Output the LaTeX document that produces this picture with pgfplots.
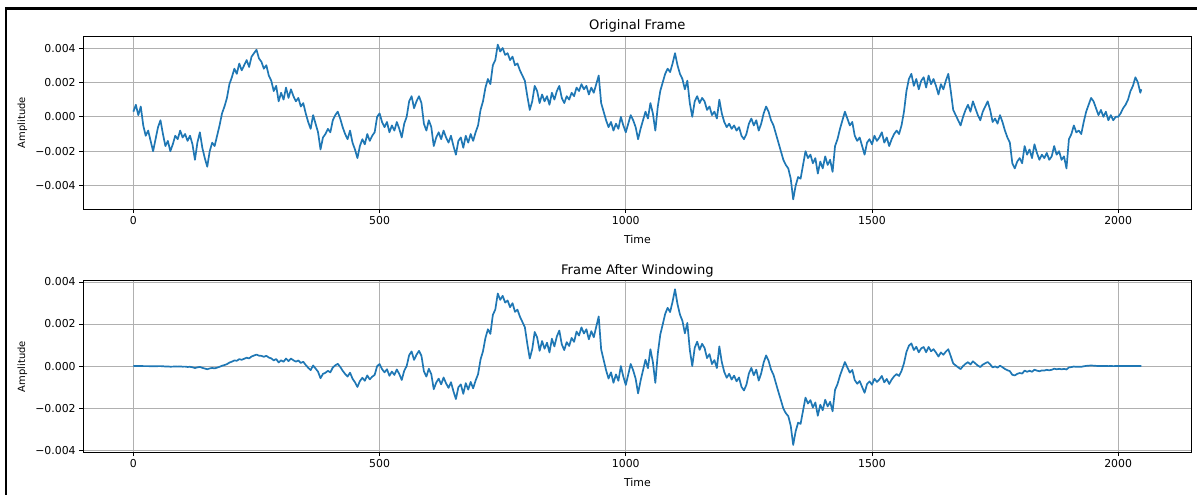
\documentclass[border=0pt]{standalone}
\usepackage{fontspec}
\setmainfont{DejaVu Sans}
\usepackage{pgfplots}
\usepackage{pgfplotstable}
\pgfplotsset{compat=1.18}
\definecolor{mplblue}{HTML}{1F77B4}
\definecolor{gridgray}{HTML}{B0B0B0}
\newcommand\tickfont{\fontsize{10.9bp}{13bp}\selectfont}
\newcommand\titlefont{\fontsize{13.1bp}{15bp}\selectfont}
\pgfplotstableread{
t o w
0 3e-4 0
5 7e-4 0.004e-4
10 1e-4 0.001e-4
15 6e-4 0.011e-4
20 -5e-4 -0.012e-4
25 -11e-4 -0.033e-4
30 -8e-4 -0.028e-4
35 -14e-4 -0.057e-4
40 -20e-4 -0.094e-4
45 -13e-4 -0.069e-4
50 -6e-4 -0.035e-4
55 -2e-4 -0.015e-4
60 -10e-4 -0.094e-4
65 -17e-4 -0.19e-4
70 -14e-4 -0.18e-4
75 -20e-4 -0.29e-4
80 -16e-4 -0.26e-4
85 -11e-4 -0.20e-4
90 -13e-4 -0.26e-4
95 -8e-4 -0.17e-4
100 -12e-4 -0.28e-4
105 -10e-4 -0.26e-4
110 -14e-4 -0.41e-4
115 -11e-4 -0.35e-4
120 -16e-4 -0.56e-4
125 -25e-4 -0.94e-4
130 -15e-4 -0.61e-4
135 -9e-4 -0.39e-4
140 -18e-4 -0.84e-4
145 -24e-4 -1.18e-4
150 -29e-4 -1.51e-4
155 -20e-4 -1.12e-4
160 -15e-4 -0.90e-4
165 -17e-4 -1.09e-4
170 -11e-4 -0.75e-4
175 -5e-4 -0.36e-4
180 2e-4 0.15e-4
185 6e-4 0.48e-4
190 11e-4 0.92e-4
195 19e-4 1.66e-4
200 23e-4 2.10e-4
205 28e-4 2.69e-4
210 25e-4 2.53e-4
215 31e-4 3.29e-4
220 27e-4 2.99e-4
225 30e-4 3.47e-4
230 33e-4 3.98e-4
235 29e-4 3.64e-4
240 35e-4 4.56e-4
245 37e-4 5.01e-4
250 39e-4 5.47e-4
255 34e-4 4.96e-4
260 32e-4 4.85e-4
265 28e-4 4.41e-4
270 30e-4 4.89e-4
275 24e-4 4.05e-4
280 21e-4 3.66e-4
285 15e-4 2.70e-4
290 18e-4 3.35e-4
295 9e-4 1.73e-4
300 14e-4 2.76e-4
305 10e-4 2.04e-4
310 17e-4 3.58e-4
315 11e-4 2.38e-4
320 16e-4 3.57e-4
325 12e-4 2.76e-4
330 9e-4 2.12e-4
335 11e-4 2.67e-4
340 6e-4 1.49e-4
345 8e-4 2.04e-4
350 2e-4 0.52e-4
355 -3e-4 -0.81e-4
360 -7e-4 -1.93e-4
365 1e-4 0.28e-4
370 -4e-4 -1.16e-4
375 -9e-4 -2.67e-4
380 -19e-4 -5.77e-4
385 -12e-4 -3.73e-4
390 -10e-4 -3.18e-4
395 -7e-4 -2.27e-4
400 -9e-4 -2.99e-4
405 -2e-4 -0.68e-4
410 1e-4 0.35e-4
415 3e-4 1.06e-4
420 -1e-4 -0.36e-4
425 -6e-4 -2.21e-4
430 -10e-4 -3.76e-4
435 -13e-4 -4.99e-4
440 -8e-4 -3.13e-4
445 -15e-4 -5.98e-4
450 -19e-4 -7.71e-4
455 -24e-4 -9.92e-4
460 -17e-4 -7.16e-4
465 -13e-4 -5.57e-4
470 -16e-4 -6.98e-4
475 -10e-4 -4.44e-4
480 -14e-4 -6.32e-4
485 -11e-4 -5.05e-4
490 -9e-4 -4.20e-4
495 0 0
500 2e-4 0.96e-4
505 -3e-4 -1.47e-4
510 -6e-4 -2.98e-4
515 -3e-4 -1.52e-4
520 -9e-4 -4.61e-4
525 -5e-4 -2.60e-4
530 -8e-4 -4.22e-4
535 -3e-4 -1.61e-4
540 -7e-4 -3.80e-4
545 -12e-4 -6.61e-4
550 -4e-4 -2.24e-4
555 0 0
560 9e-4 5.16e-4
565 12e-4 6.97e-4
570 5e-4 2.94e-4
575 9e-4 5.37e-4
580 12e-4 7.24e-4
585 8e-4 4.89e-4
590 -4e-4 -2.47e-4
595 -8e-4 -5.01e-4
600 -2e-4 -1.27e-4
605 -6e-4 -3.84e-4
610 -17e-4 -11.0e-4
615 -12e-4 -7.86e-4
620 -9e-4 -5.96e-4
625 -13e-4 -8.71e-4
630 -8e-4 -5.42e-4
635 -12e-4 -8.21e-4
640 -15e-4 -10.37e-4
645 -11e-4 -7.68e-4
650 -17e-4 -12.0e-4
655 -22e-4 -15.7e-4
660 -14e-4 -10.07e-4
665 -12e-4 -8.71e-4
670 -18e-4 -13.2e-4
675 -11e-4 -8.13e-4
680 -15e-4 -11.2e-4
685 -10e-4 -7.53e-4
690 -14e-4 -10.6e-4
695 -9e-4 -6.89e-4
700 -5e-4 -3.86e-4
705 4e-4 3.11e-4
710 9e-4 7.06e-4
715 17e-4 13.4e-4
720 22e-4 17.5e-4
725 19e-4 15.3e-4
730 30e-4 24.3e-4
735 33e-4 26.9e-4
740 42e-4 34.5e-4
745 38e-4 31.5e-4
750 40e-4 33.4e-4
755 36e-4 30.2e-4
760 37e-4 31.2e-4
765 33e-4 28.0e-4
770 35e-4 29.9e-4
775 30e-4 25.8e-4
780 31e-4 26.8e-4
785 27e-4 23.5e-4
790 24e-4 21.0e-4
795 21e-4 18.5e-4
800 12e-4 10.6e-4
805 4e-4 3.57e-4
810 9e-4 8.06e-4
815 18e-4 16.2e-4
820 15e-4 13.6e-4
825 8e-4 7.27e-4
830 13e-4 11.9e-4
835 9e-4 8.26e-4
840 12e-4 11.1e-4
845 7e-4 6.48e-4
850 14e-4 13.0e-4
855 10e-4 9.34e-4
860 15e-4 14.1e-4
865 18e-4 16.9e-4
870 11e-4 10.4e-4
875 8e-4 7.58e-4
880 12e-4 11.4e-4
885 10e-4 9.54e-4
890 14e-4 13.4e-4
895 12e-4 11.5e-4
900 17e-4 16.4e-4
905 15e-4 14.5e-4
910 19e-4 18.4e-4
915 16e-4 15.5e-4
920 18e-4 17.5e-4
925 13e-4 12.7e-4
930 17e-4 16.6e-4
935 14e-4 13.7e-4
940 19e-4 18.7e-4
945 24e-4 23.6e-4
950 8e-4 7.9e-4
955 3e-4 2.97e-4
960 -2e-4 -1.98e-4
965 -6e-4 -5.94e-4
970 -3e-4 -2.98e-4
975 -8e-4 -7.94e-4
980 -4e-4 -3.98e-4
985 -7e-4 -6.97e-4
990 0 0
995 -5e-4 -4.99e-4
1000 -9e-4 -8.99e-4
1005 -4e-4 -4.0e-4
1010 1e-4 1.0e-4
1015 -2e-4 -2.0e-4
1020 -6e-4 -6.0e-4
1025 -13e-4 -13.0e-4
1030 -7e-4 -7.0e-4
1035 -2e-4 -2.0e-4
1040 3e-4 3.0e-4
1045 -1e-4 -1.0e-4
1050 8e-4 7.99e-4
1055 2e-4 1.99e-4
1060 -8e-4 -7.97e-4
1065 6e-4 5.97e-4
1070 15e-4 14.9e-4
1075 20e-4 19.8e-4
1080 25e-4 24.8e-4
1085 28e-4 27.7e-4
1090 26e-4 25.7e-4
1095 31e-4 30.6e-4
1100 37e-4 36.5e-4
1105 30e-4 29.5e-4
1110 25e-4 24.5e-4
1115 22e-4 21.5e-4
1120 16e-4 15.6e-4
1125 21e-4 20.5e-4
1130 8e-4 7.78e-4
1135 0 0
1140 9e-4 8.71e-4
1145 12e-4 11.6e-4
1150 8e-4 7.70e-4
1155 11e-4 10.6e-4
1160 9e-4 8.60e-4
1165 4e-4 3.81e-4
1170 6e-4 5.69e-4
1175 1e-4 0.95e-4
1180 3e-4 2.83e-4
1185 -1e-4 -0.94e-4
1190 10e-4 9.35e-4
1195 2e-4 1.86e-4
1200 -3e-4 -2.79e-4
1205 -6e-4 -5.54e-4
1210 -4e-4 -3.68e-4
1215 -7e-4 -6.41e-4
1220 -5e-4 -4.55e-4
1225 -8e-4 -7.25e-4
1230 -6e-4 -5.41e-4
1235 -11e-4 -9.87e-4
1240 -13e-4 -11.6e-4
1245 -10e-4 -8.88e-4
1250 -4e-4 -3.54e-4
1255 -1e-4 -0.88e-4
1260 -5e-4 -4.37e-4
1265 -2e-4 -1.74e-4
1270 -8e-4 -6.90e-4
1275 -4e-4 -3.43e-4
1280 2e-4 1.70e-4
1285 6e-4 5.08e-4
1290 3e-4 2.52e-4
1295 -2e-4 -1.67e-4
1300 -5e-4 -4.15e-4
1305 -10e-4 -8.24e-4
1310 -15e-4 -12.3e-4
1315 -20e-4 -16.2e-4
1320 -25e-4 -20.2e-4
1325 -28e-4 -22.4e-4
1330 -30e-4 -23.8e-4
1335 -36e-4 -28.4e-4
1340 -48e-4 -37.5e-4
1345 -40e-4 -31.0e-4
1350 -35e-4 -26.9e-4
1355 -36e-4 -27.5e-4
1360 -28e-4 -21.2e-4
1365 -20e-4 -15.0e-4
1370 -24e-4 -17.8e-4
1375 -22e-4 -16.2e-4
1380 -27e-4 -19.7e-4
1385 -24e-4 -17.3e-4
1390 -33e-4 -23.6e-4
1395 -26e-4 -18.4e-4
1400 -30e-4 -21.0e-4
1405 -23e-4 -16.0e-4
1410 -28e-4 -19.2e-4
1415 -25e-4 -17.0e-4
1420 -32e-4 -21.5e-4
1425 -17e-4 -11.3e-4
1430 -13e-4 -8.56e-4
1435 -7e-4 -4.56e-4
1440 -2e-4 -1.29e-4
1445 3e-4 1.91e-4
1450 -1e-4 -0.63e-4
1455 -5e-4 -3.11e-4
1460 -3e-4 -1.84e-4
1465 -11e-4 -6.67e-4
1470 -14e-4 -8.39e-4
1475 -12e-4 -7.10e-4
1480 -17e-4 -9.93e-4
1485 -22e-4 -12.7e-4
1490 -15e-4 -8.54e-4
1495 -13e-4 -7.30e-4
1500 -16e-4 -8.87e-4
1505 -11e-4 -6.01e-4
1510 -14e-4 -7.54e-4
1515 -12e-4 -6.37e-4
1520 -9e-4 -4.71e-4
1525 -15e-4 -7.74e-4
1530 -12e-4 -6.10e-4
1535 -17e-4 -8.51e-4
1540 -13e-4 -6.41e-4
1545 -10e-4 -4.85e-4
1550 -8e-4 -3.82e-4
1555 -10e-4 -4.70e-4
1560 -5e-4 -2.31e-4
1565 3e-4 1.36e-4
1570 15e-4 6.71e-4
1575 22e-4 9.67e-4
1580 25e-4 10.8e-4
1585 18e-4 7.63e-4
1590 22e-4 9.16e-4
1595 16e-4 6.54e-4
1600 21e-4 8.43e-4
1605 23e-4 9.06e-4
1610 17e-4 6.57e-4
1615 24e-4 9.10e-4
1620 19e-4 7.06e-4
1625 22e-4 8.02e-4
1630 18e-4 6.43e-4
1635 13e-4 4.54e-4
1640 19e-4 6.50e-4
1645 16e-4 5.36e-4
1650 21e-4 6.88e-4
1655 25e-4 8.01e-4
1660 15e-4 4.70e-4
1665 4e-4 1.23e-4
1670 1e-4 0.30e-4
1675 -2e-4 -0.59e-4
1680 -5e-4 -1.43e-4
1685 0 0
1690 4e-4 1.09e-4
1695 7e-4 1.85e-4
1700 3e-4 0.77e-4
1705 9e-4 2.26e-4
1710 5e-4 1.23e-4
1715 1e-4 0.24e-4
1720 -2e-4 -0.46e-4
1725 3e-4 0.68e-4
1730 6e-4 1.32e-4
1735 9e-4 1.92e-4
1740 4e-4 0.83e-4
1745 -3e-4 -0.60e-4
1750 -1e-4 -0.19e-4
1755 -4e-4 -0.75e-4
1760 1e-4 0.18e-4
1765 -3e-4 -0.53e-4
1770 -8e-4 -1.37e-4
1775 -12e-4 -1.98e-4
1780 -15e-4 -2.40e-4
1785 -27e-4 -4.16e-4
1790 -30e-4 -4.45e-4
1795 -26e-4 -3.71e-4
1800 -24e-4 -3.29e-4
1805 -27e-4 -3.57e-4
1810 -17e-4 -2.16e-4
1815 -22e-4 -2.70e-4
1820 -19e-4 -2.23e-4
1825 -24e-4 -2.71e-4
1830 -16e-4 -1.73e-4
1835 -21e-4 -2.17e-4
1840 -25e-4 -2.46e-4
1845 -22e-4 -2.05e-4
1850 -24e-4 -2.13e-4
1855 -21e-4 -1.78e-4
1860 -25e-4 -2.02e-4
1865 -23e-4 -1.77e-4
1870 -17e-4 -1.24e-4
1875 -22e-4 -1.52e-4
1880 -20e-4 -1.31e-4
1885 -25e-4 -1.54e-4
1890 -23e-4 -1.33e-4
1895 -30e-4 -1.62e-4
1900 -13e-4 -0.65e-4
1905 -10e-4 -0.47e-4
1910 -5e-4 -0.22e-4
1915 -9e-4 -0.37e-4
1920 -8e-4 -0.31e-4
1925 -10e-4 -0.36e-4
1930 -3e-4 -0.10e-4
1935 3e-4 0.09e-4
1940 7e-4 0.19e-4
1945 11e-4 0.27e-4
1950 9e-4 0.20e-4
1955 5e-4 0.10e-4
1960 1e-4 0.02e-4
1965 4e-4 0.07e-4
1970 0 0
1975 3e-4 0.04e-4
1980 -2e-4 -0.02e-4
1985 1e-4 0.01e-4
1990 -2e-4 -0.02e-4
1995 0 0
2000 0 0
2005 2e-4 0.01e-4
2010 5e-4 0.02e-4
2015 7e-4 0.02e-4
2020 10e-4 0.03e-4
2025 15e-4 0.04e-4
2030 18e-4 0.03e-4
2035 23e-4 0.03e-4
2040 20e-4 0.02e-4
2045 14e-4 0.00
2047 16e-4 0
}\framedata

\pgfplotsset{
  mpl/.style={
    scale only axis,
    width=1108.7bp,
    xmin=-102.35, xmax=2149.35,
    xtick={0,500,1000,1500,2000},
    xticklabels={0,500,1000,1500,2000},
    ytick={-0.004,-0.002,0,0.002,0.004},
    yticklabels={−0.004,−0.002,0.000,0.002,0.004},
    scaled y ticks=false, scaled x ticks=false,
    grid=major,
    grid style={color=gridgray, line width=0.87bp},
    tick align=outside,
    tick pos=left,
    major tick length=3.8bp,
    every tick/.style={black, line width=0.87bp},
    axis line style={line width=0.87bp},
    tick label style={font=\tickfont},
    label style={font=\tickfont},
    title style={font=\titlefont, yshift=-6bp},
    xlabel style={yshift=-4bp},
    every axis y label/.style={at={(axis description cs:-0.0546,0.5)}, anchor=center, rotate=90},
    xlabel={Time},
    ylabel={Amplitude},
  }
}

\begin{document}
\begin{tikzpicture}
\useasboundingbox (0,0) rectangle (1197bp,495bp);
\draw[line width=2.2bp] (6bp,0) -- (6bp,486.5bp) -- (1197bp,486.5bp);

\begin{axis}[mpl,
  at={(83bp,286bp)}, anchor=south west,
  height=173bp,
  ymin=-0.00536, ymax=0.0047,
  title={Original Frame},
]
\addplot[mplblue, line width=1.7bp, line join=round, no marks] table[x=t, y=o] {\framedata};
\end{axis}

\begin{axis}[mpl,
  at={(83bp,42.7bp)}, anchor=south west,
  height=171.6bp,
  ymin=-0.0041, ymax=0.00406,
  title={Frame After Windowing},
]
\addplot[mplblue, line width=1.7bp, line join=round, no marks] table[x=t, y=w] {\framedata};
\end{axis}
\end{tikzpicture}
\end{document}
